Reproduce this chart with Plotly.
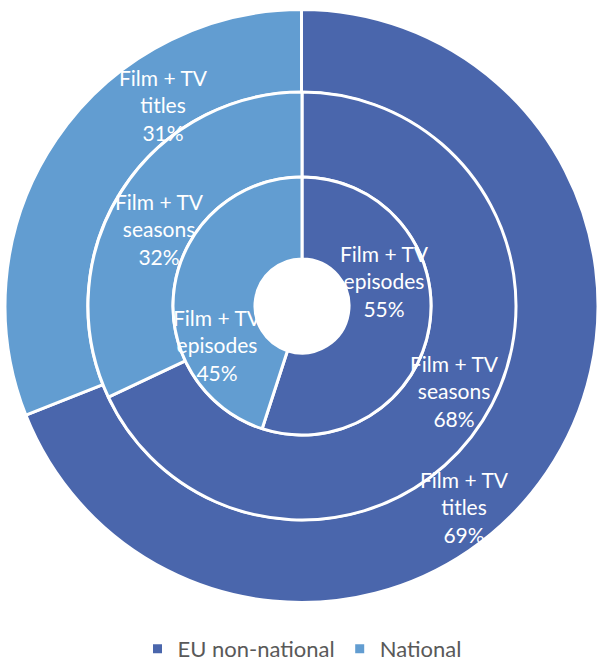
import math
import plotly.graph_objects as go

# ---- data ----
categories = ["EU non-national", "National"]
ring_names = ["titles", "seasons", "episodes"]          # outer -> inner
titles_share = [69, 31]
seasons_share = [68, 32]
episodes_share = [55, 45]
ring_values = [titles_share, seasons_share, episodes_share]

# ---- style ----
W, H = 598, 659
colors = ["#4A66AC", "#629DD1"]
cx, cy = 302, 306                     # pie centre in px (from top-left)
radii = [297, 214, 129]               # outer radius of each ring
hole_r = 47
# label placement (per ring): angular nudge from slice midpoint (deg),
# distance from centre (px), and a small shift of the label centre (px)
label_nudge = [19, -3.7, -30]
label_radius = [251.5, 168.5, 89]
label_shift = [(12, 0), (5, 4), (-1, 7)]
font_family = "Lato"

fig = go.Figure()

inner_edges = radii[1:] + [hole_r]
for i, (vals, R, r_in) in enumerate(zip(ring_values, radii, inner_edges)):
    fig.add_trace(go.Pie(
        labels=categories,
        values=vals,
        sort=False,
        direction="clockwise",
        rotation=0,
        hole=r_in / R,
        domain=dict(x=[max(0, (cx - R) / W), min(1, (cx + R) / W)],
                    y=[1 - (cy + R) / H, 1 - (cy - R) / H]),
        marker=dict(colors=colors, line=dict(color="white", width=3)),
        textinfo="none",
        showlegend=(i == 0),
        hoverinfo="label+value+percent",
    ))

    # labels placed from data: angle at slice midpoint (+ nudge)
    total = sum(vals)
    cum = 0
    lx0, ly0 = cx + label_shift[i][0], cy + label_shift[i][1]
    for v in vals:
        ang = (cum + v / 2) / total * 360 + label_nudge[i]
        cum += v
        px = lx0 + label_radius[i] * math.sin(math.radians(ang))
        py = ly0 - label_radius[i] * math.cos(math.radians(ang))
        fig.add_annotation(
            x=px / W, y=1 - py / H, xref="paper", yref="paper",
            text=f"Film + TV<br>{ring_names[i]}<br>{round(v / total * 100)}%",
            showarrow=False, xanchor="center", yanchor="middle",
            font=dict(family=font_family, size=21, color="white"),
        )

fig.update_layout(
    width=W, height=H,
    margin=dict(l=0, r=0, t=0, b=0, autoexpand=False),
    paper_bgcolor="white", plot_bgcolor="white",
    legend=dict(orientation="h", x=0.505, xanchor="center",
                y=(H - 649) / H, yanchor="middle",
                font=dict(family=font_family, size=22, color="#595959"),
                itemwidth=30, tracegroupgap=0),
)

fig.write_html("out.html")
